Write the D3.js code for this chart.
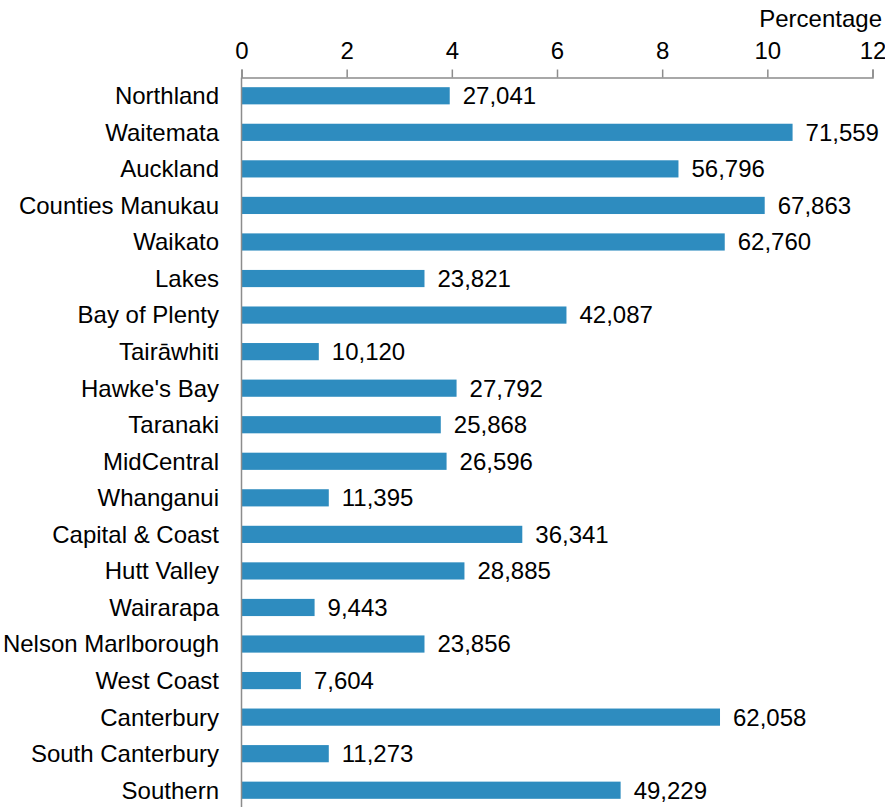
<!DOCTYPE html>
<html>
<head>
<meta charset="utf-8">
<script src="https://cdn.jsdelivr.net/npm/d3@7"></script>
<style>
  html, body { margin: 0; padding: 0; background: #fff; }
  svg { display: block; }
  text { font-family: "Liberation Sans", Arial, sans-serif; fill: #000; }
</style>
</head>
<body>
<script>
const categories = ["Northland","Waitemata","Auckland","Counties Manukau","Waikato","Lakes","Bay of Plenty","Tairāwhiti","Hawke's Bay","Taranaki","MidCentral","Whanganui","Capital & Coast","Hutt Valley","Wairarapa","Nelson Marlborough","West Coast","Canterbury","South Canterbury","Southern"];
const percentages = [3.96,10.48,8.31,9.95,9.19,3.48,6.18,1.47,4.09,3.79,3.90,1.66,5.34,4.24,1.39,3.48,1.13,9.10,1.66,7.21];
const counts = ["27,041","71,559","56,796","67,863","62,760","23,821","42,087","10,120","27,792","25,868","26,596","11,395","36,341","28,885","9,443","23,856","7,604","62,058","11,273","49,229"];
const xTicks = [0,2,4,6,8,10,12];
const axisTitle = "Percentage";

const W = 885, H = 807;
const svg = d3.select("body").append("svg").attr("width", W).attr("height", H);

const x = d3.scaleLinear().domain([0, 12]).range([241.5, 872.5]);
const y = d3.scaleBand().domain(categories).range([77.5, 808.5]).paddingInner(0.53).paddingOuter(0.265);

const axisColor = "#8c8c8c";
const fs = "24px";

// bars
svg.append("g").selectAll("rect").data(categories).join("rect")
  .attr("x", x(0))
  .attr("y", d => y(d))
  .attr("width", (d, i) => x(percentages[i]) - x(0))
  .attr("height", y.bandwidth())
  .attr("fill", "#2e8cbf");

// top axis
const xAxis = svg.append("g").attr("transform", `translate(0,${77.5})`)
  .call(d3.axisTop(x).tickValues(xTicks).tickSize(8).tickPadding(11).tickSizeOuter(8));
xAxis.select(".domain").attr("stroke", axisColor).attr("stroke-width", 1.5);
xAxis.selectAll(".tick line").attr("stroke", axisColor).attr("stroke-width", 1.5);
xAxis.selectAll(".tick text").style("font-size", fs).attr("fill", "#000");

// vertical axis line
svg.append("line").attr("x1", x(0)).attr("x2", x(0)).attr("y1", 77.5).attr("y2", H)
  .attr("stroke", axisColor).attr("stroke-width", 1.5);

// axis title
svg.append("text").attr("x", 882).attr("y", 27).attr("text-anchor", "end")
  .style("font-size", fs).text(axisTitle);

// category labels
svg.append("g").selectAll("text").data(categories).join("text")
  .attr("x", 219)
  .attr("y", d => y(d) + y.bandwidth() / 2)
  .attr("dy", "0.35em")
  .attr("text-anchor", "end")
  .style("font-size", fs)
  .text(d => d);

// value labels
svg.append("g").selectAll("text").data(categories).join("text")
  .attr("x", (d, i) => x(percentages[i]) + 13)
  .attr("y", d => y(d) + y.bandwidth() / 2)
  .attr("dy", "0.35em")
  .style("font-size", fs)
  .text((d, i) => counts[i]);
</script>
</body>
</html>
